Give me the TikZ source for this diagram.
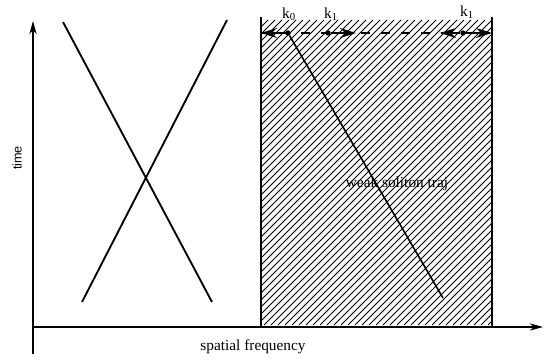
\documentclass[tikz,border=0pt]{standalone}
\usepackage{fontspec}
\setmainfont{Liberation Serif}
\newfontfamily\axisfont{Liberation Sans}
\usetikzlibrary{arrows.meta}
\tikzset{
    axis/.style={-{Stealth[length=10pt,width=5.5pt]}, line width=0.8pt},
    cross/.style={line width=1.4pt},
    traj/.style={line width=1.2pt},
    band/.style={line width=0.8pt},
    hatch/.style={line width=0.6pt},
    wave/.style={-{Stealth[length=12pt,width=7.5pt]}, line width=1.3pt},
    dot/.style={circle, fill, inner sep=0pt, minimum size=4pt},
    lbl/.style={font=\fontsize{11.5}{13}\selectfont, inner sep=1pt}
}

\begin{document}
\begin{tikzpicture}[x=0.75pt, y=-0.75pt]
    \useasboundingbox (0,0) rectangle (547,360);

    % Axes
    \coordinate (O) at (33,327);
    \coordinate (tbot) at (33,354);
    \coordinate (ttop) at (33,21);
    \coordinate (fend) at (543,327);
    \draw[axis] (tbot) -- (ttop);
    \draw[axis] (O) -- (fend);
    \node[rotate=90, font=\axisfont\fontsize{9.5}{11}\selectfont] (tlab) at (17,158) {time};
    \node[lbl] (flab) at (253,347) {spatial frequency};

    % Crossing lines (left)
    \coordinate (a1) at (63,22);
    \coordinate (a2) at (212,302);
    \coordinate (b1) at (227,20);
    \coordinate (b2) at (82,302);
    \draw[cross] (a1) -- (a2);
    \draw[cross] (b1) -- (b2);

    % Hatched band
    \begin{scope}
        \clip (261,20) rectangle (492,325);
        \foreach \x in {-44,-37,...,492}
            \draw[hatch] (\x,325) -- ++(305,-305);
    \end{scope}
    \coordinate (tl) at (261,17);
    \coordinate (bl) at (261,327);
    \coordinate (tr) at (492,17);
    \coordinate (br) at (492,327);
    \draw[band] (tl) -- (bl);
    \draw[band] (tr) -- (br);

    % Top line with wave numbers
    \coordinate (el) at (261,33);
    \coordinate (er) at (492,33);
    \coordinate (w1) at (356,33);
    \coordinate (w2) at (440,33);
    \draw[band, dash pattern=on 7pt off 8pt] (el) -- (er);
    \node[dot] (k0) at (288,33) {};
    \node[dot] (k1) at (328,33) {};
    \node[dot] (k1b) at (463,33) {};
    \draw[wave] (k0) -- (el);
    \draw[wave] (k1) -- (w1);
    \draw[wave] (k1b) -- (w2);
    \draw[wave] (k1b) -- (er);
    \node[lbl] (k0lab) at (289,14) {k\textsubscript{0}};
    \node[lbl] (k1lab) at (331,14) {k\textsubscript{1}};
    \node[lbl] (k1blab) at (467,12) {k\textsubscript{1}};

    % Soliton trajectory
    \coordinate (tend) at (443,298);
    \draw[traj] (k0) -- (tend);
    \node[lbl] (trajlab) at (397,184) {weak soliton traj};
\end{tikzpicture}
\end{document}
